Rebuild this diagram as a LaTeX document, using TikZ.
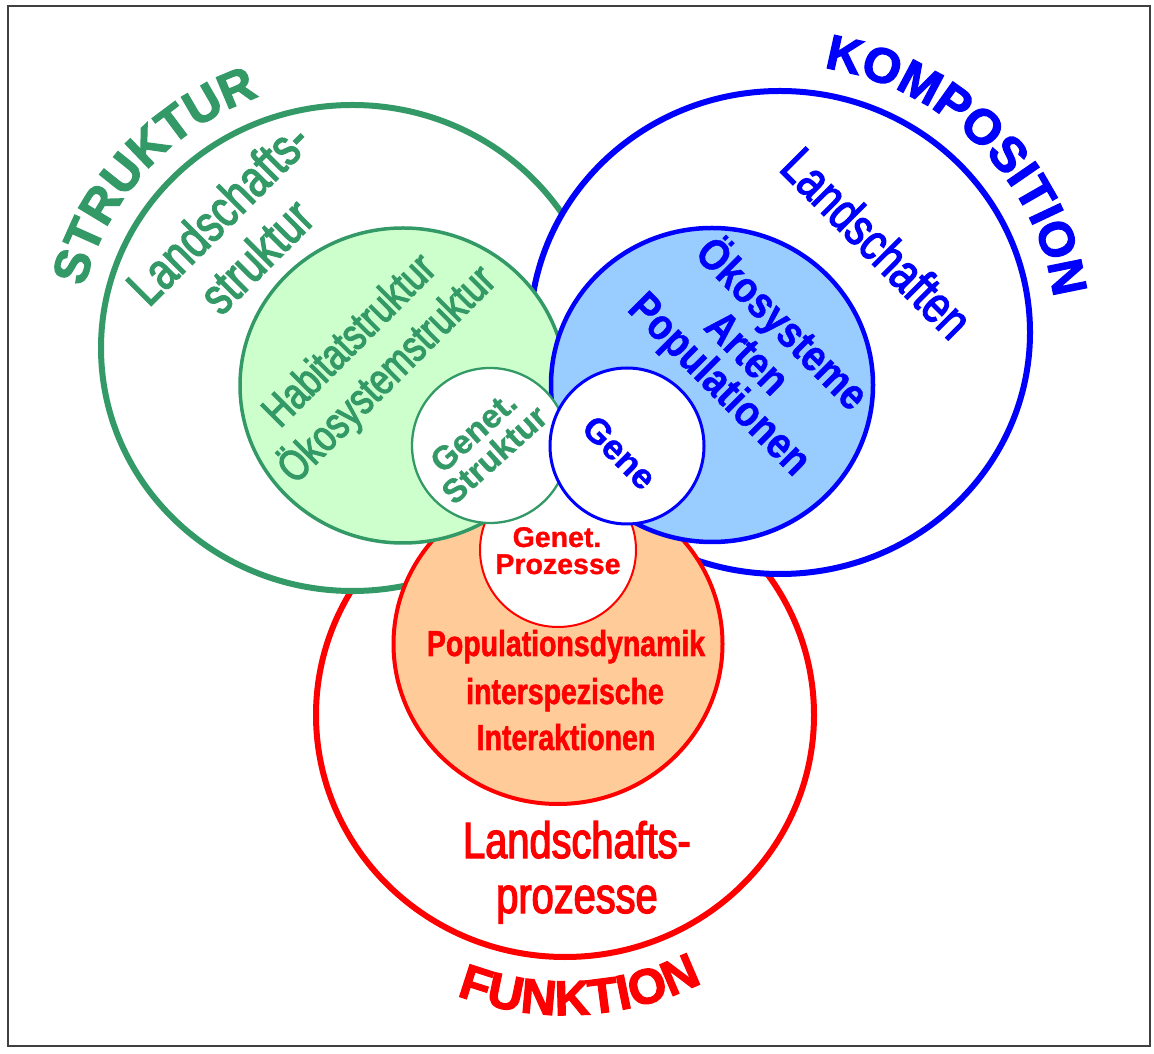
\documentclass[tikz,border=0pt]{standalone}
\usepackage{fontspec}
\setmainfont{Liberation Sans}
\newfontfamily\narrowfont[FakeStretch=0.78, FakeBold=2.5]{Liberation Sans}
\newfontfamily\narrowbfont[FakeStretch=0.85, FakeBold=1]{Liberation Sans Bold}
\newfontfamily\narrowcfont[FakeStretch=0.79, FakeBold=1.5]{Liberation Sans Bold}
\newfontfamily\ttlfam[FakeBold=2.5]{Liberation Sans Bold}
\newfontfamily\genfam[FakeBold=1]{Liberation Sans Bold}
\newcommand\ttlfont{\ttlfam\fontsize{49}{49}\selectfont}
\usetikzlibrary{decorations.text}
\definecolor{sgreen}{RGB}{51,153,102}
\definecolor{lgreen}{RGB}{204,255,204}
\definecolor{sblue}{RGB}{0,0,255}
\definecolor{lblue}{RGB}{153,204,255}
\definecolor{sred}{RGB}{255,0,0}
\definecolor{peach}{RGB}{255,204,153}
\tikzset{
  bigring/.style={line width=6pt, fill=white},
  midring/.style={line width=4pt},
  smallring/.style={line width=2.5pt, fill=white},
  lab/.style={inner sep=0pt, anchor=base},
  biglab/.style={lab, font={\narrowfont\fontsize{52}{60}\selectfont}},
  habilab/.style={lab, font={\narrowfont\fontsize{44}{50}\selectfont}},
  bluebold/.style={lab, font={\narrowbfont\fontsize{44}{50}\selectfont}},
  redbold/.style={lab, font={\narrowcfont\fontsize{36}{40}\selectfont}},
  genlab/.style={lab, font={\genfam\fontsize{33}{36}\selectfont}},
  title/.style={decorate, decoration={text along path, text align=center}}
}
\begin{document}
\begin{tikzpicture}[x=1pt,y=1pt]
\useasboundingbox (0,0) rectangle (1154,1053);
\fill[white] (0,0) rectangle (1154,1053);
\draw[line width=2pt, black!75] (8,7) rectangle (1150,1047);

% big rings
\draw[bigring, draw=sred]   (565,338)   ellipse [x radius=249,   y radius=242];
\draw[bigring, draw=sgreen] (352.5,705) ellipse [x radius=251.5, y radius=243];
\draw[bigring, draw=sblue]  (780,720.5) ellipse [x radius=250,   y radius=241.5];

% middle discs
\draw[midring, draw=sred, fill=peach]    (558,409)   ellipse [x radius=164.5, y radius=160];
\draw[line width=3.5pt, draw=sgreen, fill=lgreen] (403,667.5) ellipse [x radius=163, y radius=157.5];
\draw[line width=4.5pt, draw=sblue, fill=lblue]   (712,668)   ellipse [x radius=161, y radius=157];

% small discs
\draw[smallring, line width=2pt, draw=sred]     (558,503)   ellipse [x radius=78, y radius=77];
\draw[smallring, line width=2.3pt, draw=sgreen] (490,607.5) ellipse [x radius=78, y radius=77.5];
\draw[smallring, line width=3pt, draw=sblue]    (627,607)   ellipse [x radius=77, y radius=78];

% titles
\path[title, decoration={text={|\ttlfont|STRUKTUR}, text color=sgreen}]
  (352.5,705) ++(181:275.5 and 267) arc [start angle=181, end angle=96, x radius=275.5, y radius=267];
\path[title, decoration={text={|\ttlfont|KOMPOSITION}, text color=sblue}]
  (780,720.5) ++(90:276 and 268) arc [start angle=90, end angle=-2, x radius=276, y radius=268];
\path[title, decoration={text={|\ttlfont|FUNKTION}, text color=sred}]
  (565,338) ++(240:304 and 300) arc [start angle=240, end angle=306, x radius=304, y radius=300];

% green labels
\node[biglab, rotate=45, text=sgreen] (ls1) at (231,827) {Landschafts-};
\node[biglab, rotate=45, text=sgreen] (ls2) at (269,784) {struktur};
\node[habilab, rotate=45, text=sgreen] (hab) at (359,703) {Habitatstruktur};
\node[habilab, rotate=45, text=sgreen] (oks) at (396.5,669) {Ökosystemstruktur};
\node[genlab, rotate=42, text=sgreen] (gs1) at (481,613) {Genet.};
\node[genlab, rotate=42, text=sgreen] (gs2) at (502,590) {Struktur};

% blue labels
\node[biglab, rotate=-45, text=sblue] (lsch) at (864,797) {Landschaften};
\node[bluebold, rotate=-45, text=sblue] (oksy) at (772,719) {Ökosysteme};
\node[bluebold, rotate=-45, text=sblue] (art) at (737,690) {Arten};
\node[bluebold, rotate=-45, text=sblue] (pop) at (710,659) {Populationen};
\node[lab, rotate=-45, text=sblue, font={\genfam\fontsize{35}{40}\selectfont}] (gene) at (611,592) {Gene};

% red labels
\node[lab, text=sred, font={\genfam\fontsize{28.5}{32}\selectfont}] (gp1) at (557,506) {Genet.};
\node[lab, text=sred, font={\genfam\fontsize{28.5}{32}\selectfont}] (gp2) at (558,479) {Prozesse};
\node[redbold, text=sred] (pd1) at (566,397) {Populationsdynamik};
\node[redbold, text=sred] (pd2) at (565,349) {interspezische};
\node[redbold, text=sred] (pd3) at (566,303) {Interaktionen};
\node[biglab, text=sred, font={\narrowfont\fontsize{51}{60}\selectfont}] (lp1) at (577,195) {Landschafts-};
\node[biglab, text=sred, font={\narrowfont\fontsize{51}{60}\selectfont}] (lp2) at (577,140) {prozesse};
\end{tikzpicture}
\end{document}
